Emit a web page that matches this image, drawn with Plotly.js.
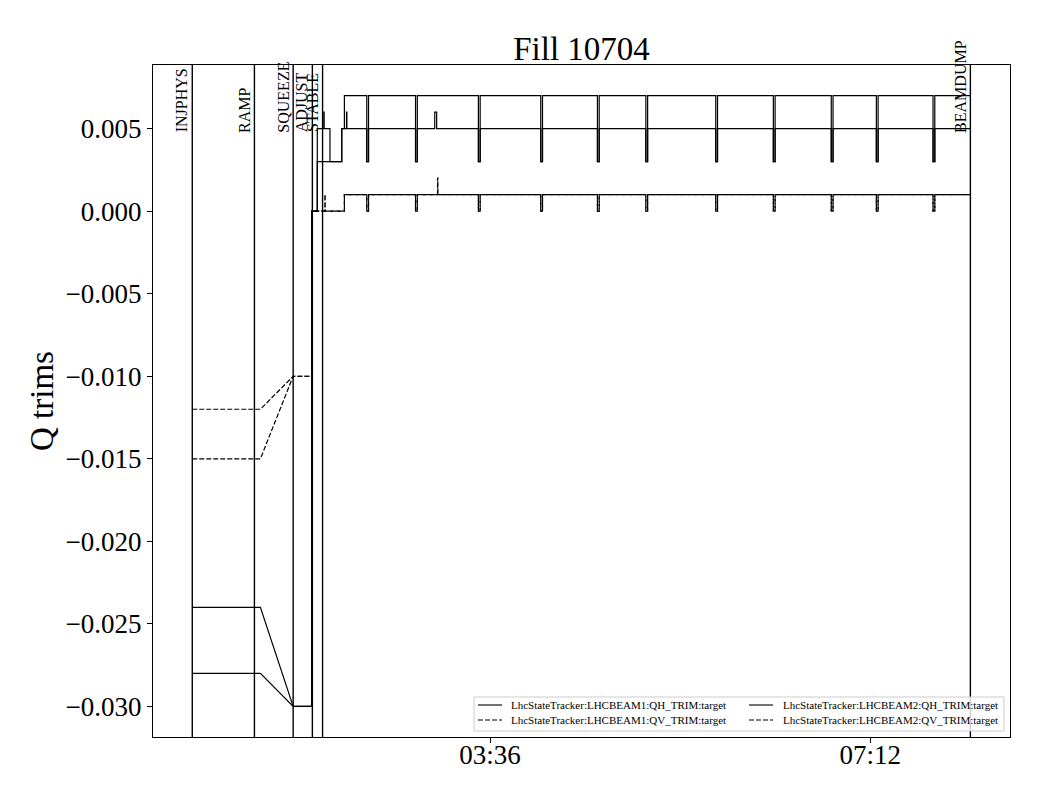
<!DOCTYPE html>
<html><head><meta charset="utf-8">
<script src="https://cdn.plot.ly/plotly-3.0.1.min.js"></script>
<style>body{margin:0;background:#fff}#chart{width:1040px;height:800px}</style>
</head><body><div id="chart"></div>
<script>
const DAY = '2025-06-01 ';
const seriesNames = [
  'LhcStateTracker:LHCBEAM1:QH_TRIM:target',
  'LhcStateTracker:LHCBEAM2:QH_TRIM:target',
  'LhcStateTracker:LHCBEAM1:QV_TRIM:target',
  'LhcStateTracker:LHCBEAM2:QV_TRIM:target'
];
const seriesDash = ['solid','solid','5px,2px','5px,2px'];

const b1qhTime = ['00:46:54','01:25:36','01:44:12','01:54:42','01:54:42','01:57:54','01:57:54','02:11:48','02:11:48','02:13:18','02:13:18',
  '02:26:00','02:26:00','02:27:00','02:27:00',
  '02:53:42','02:53:42','02:54:42','02:54:42',
  '03:29:24','03:29:24','03:30:24','03:30:24',
  '04:04:48','04:04:48','04:05:48','04:05:48',
  '04:37:00','04:37:00','04:38:00','04:38:00',
  '05:04:30','05:04:30','05:05:30','05:05:30',
  '05:44:12','05:44:12','05:45:12','05:45:12',
  '06:16:54','06:16:54','06:17:54','06:17:54',
  '06:49:48','06:49:48','06:50:48','06:50:48',
  '07:15:24','07:15:24','07:16:24','07:16:24',
  '07:47:36','07:47:36','07:48:36','07:48:36',
  '08:08:48'];
const b1qhVal = [-0.024,-0.024,-0.030,-0.030,0.000,0.000,0.003,0.003,0.005,0.005,0.007,
  0.007,0.003,0.003,0.007,
  0.007,0.003,0.003,0.007,
  0.007,0.003,0.003,0.007,
  0.007,0.003,0.003,0.007,
  0.007,0.003,0.003,0.007,
  0.007,0.003,0.003,0.007,
  0.007,0.003,0.003,0.007,
  0.007,0.003,0.003,0.007,
  0.007,0.003,0.003,0.007,
  0.007,0.003,0.003,0.007,
  0.007,0.003,0.003,0.007,
  0.007];

const b2qhTime = ['00:46:54','01:25:36','01:44:12','01:54:42','01:54:42','01:57:54','01:57:54','02:01:36','02:01:36','02:01:48','02:01:48',
  '02:05:06','02:05:06','02:11:48','02:11:48','02:14:30','02:14:30','02:14:42','02:14:42',
  '02:26:00','02:26:00','02:27:00','02:27:00',
  '02:53:42','02:53:42','02:54:42','02:54:42',
  '03:04:36','03:04:36','03:05:42','03:05:42',
  '03:29:24','03:29:24','03:30:24','03:30:24',
  '04:04:48','04:04:48','04:05:48','04:05:48',
  '04:37:00','04:37:00','04:38:00','04:38:00',
  '05:04:30','05:04:30','05:05:30','05:05:30',
  '05:44:12','05:44:12','05:45:12','05:45:12',
  '06:16:54','06:16:54','06:17:54','06:17:54',
  '06:49:48','06:49:48','06:50:48','06:50:48',
  '07:15:24','07:15:24','07:16:24','07:16:24',
  '07:47:36','07:47:36','07:48:36','07:48:36',
  '08:08:48'];
const b2qhVal = [-0.028,-0.028,-0.030,-0.030,0.000,0.000,0.005,0.005,0.006,0.006,0.005,
  0.005,0.003,0.003,0.005,0.005,0.006,0.006,0.005,
  0.005,0.003,0.003,0.005,
  0.005,0.003,0.003,0.005,
  0.005,0.006,0.006,0.005,
  0.005,0.003,0.003,0.005,
  0.005,0.003,0.003,0.005,
  0.005,0.003,0.003,0.005,
  0.005,0.003,0.003,0.005,
  0.005,0.003,0.003,0.005,
  0.005,0.003,0.003,0.005,
  0.005,0.003,0.003,0.005,
  0.005,0.003,0.003,0.005,
  0.005,0.003,0.003,0.005,
  0.005];

const b1qvTime = ['00:46:54','01:25:36','01:44:12','01:54:42','01:54:42','02:02:12','02:02:12','02:02:24','02:02:24','02:13:18','02:13:18',
  '02:26:00','02:26:00','02:27:00','02:27:00',
  '02:53:42','02:53:42','02:54:42','02:54:42',
  '03:06:12','03:06:12','03:06:24','03:06:24',
  '03:29:24','03:29:24','03:30:24','03:30:24',
  '04:04:48','04:04:48','04:05:48','04:05:48',
  '04:37:00','04:37:00','04:38:00','04:38:00',
  '05:04:30','05:04:30','05:05:30','05:05:30',
  '05:44:12','05:44:12','05:45:12','05:45:12',
  '06:16:54','06:16:54','06:17:54','06:17:54',
  '06:49:48','06:49:48','06:50:48','06:50:48',
  '07:15:24','07:15:24','07:16:24','07:16:24',
  '07:47:36','07:47:36','07:48:36','07:48:36',
  '08:08:48'];
const b1qvVal = [-0.012,-0.012,-0.010,-0.010,0.000,0.000,0.001,0.001,0.000,0.000,0.001,
  0.001,0.000,0.000,0.001,
  0.001,0.000,0.000,0.001,
  0.001,0.002,0.002,0.001,
  0.001,0.000,0.000,0.001,
  0.001,0.000,0.000,0.001,
  0.001,0.000,0.000,0.001,
  0.001,0.000,0.000,0.001,
  0.001,0.000,0.000,0.001,
  0.001,0.000,0.000,0.001,
  0.001,0.000,0.000,0.001,
  0.001,0.000,0.000,0.001,
  0.001,0.000,0.000,0.001,
  0.001];

const b2qvTime = ['00:46:54','01:25:36','01:44:12','01:54:42','01:54:42','02:13:18','02:13:18',
  '02:26:00','02:26:00','02:27:00','02:27:00',
  '02:53:42','02:53:42','02:54:42','02:54:42',
  '03:29:24','03:29:24','03:30:24','03:30:24',
  '04:04:48','04:04:48','04:05:48','04:05:48',
  '04:37:00','04:37:00','04:38:00','04:38:00',
  '05:04:30','05:04:30','05:05:30','05:05:30',
  '05:44:12','05:44:12','05:45:12','05:45:12',
  '06:16:54','06:16:54','06:17:54','06:17:54',
  '06:49:48','06:49:48','06:50:48','06:50:48',
  '07:15:24','07:15:24','07:16:24','07:16:24',
  '07:47:36','07:47:36','07:48:36','07:48:36',
  '08:08:48'];
const b2qvVal = [-0.015,-0.015,-0.010,-0.010,0.000,0.000,0.001,
  0.001,0.000,0.000,0.001,
  0.001,0.000,0.000,0.001,
  0.001,0.000,0.000,0.001,
  0.001,0.000,0.000,0.001,
  0.001,0.000,0.000,0.001,
  0.001,0.000,0.000,0.001,
  0.001,0.000,0.000,0.001,
  0.001,0.000,0.000,0.001,
  0.001,0.000,0.000,0.001,
  0.001,0.000,0.000,0.001,
  0.001,0.000,0.000,0.001,
  0.001];

const eventNames = ['INJPHYS','RAMP','SQUEEZE','ADJUST','STABLE','BEAMDUMP'];
const eventTimes = ['00:46:54','01:22:12','01:44:12','01:55:06','02:00:54','08:08:48'];
const xTickTimes = ['03:36:00','07:12:00'];
const xTickLabels = ['03:36','07:12'];
const yTickVals = [-0.030,-0.025,-0.020,-0.015,-0.010,-0.005,0.000,0.005];
const yTickLabels = ['\u22120.030','\u22120.025','\u22120.020','\u22120.015','\u22120.010','\u22120.005','0.000','0.005'];
const xRange = ['00:24:36','08:31:18'];
const yRange = [-0.03185, 0.00885];
const labelY = 0.00464;
const yTitle = 'Q trims';

const FONT = 'Liberation Serif, Times New Roman, serif';
const d = t => DAY + t;

// plot area in pixels (for the legend box)
const PL = 153, PR = 1010, PT = 65, PB = 737;
const px = v => (v - PL) / (PR - PL);
const py = v => (PB - v) / (PB - PT);

const allTimes = [b1qhTime,b2qhTime,b1qvTime,b2qvTime];
const allVals = [b1qhVal,b2qhVal,b1qvVal,b2qvVal];
const traces = allTimes.map((tt,i)=>({
  type:'scatter', mode:'lines',
  x: tt.map(d), y: allVals[i],
  name: seriesNames[i],
  line:{color:'#000', width:1.2, dash:seriesDash[i]},
  hoverinfo:'skip', showlegend:false
}));

const shapes = eventTimes.map(t=>({
  type:'line', xref:'x', yref:'paper', x0:d(t), x1:d(t), y0:0, y1:1,
  line:{color:'#000', width:1.4}
}));
const annotations = eventTimes.map((t,i)=>({
  x:d(t), y:labelY, xref:'x', yref:'y', text:eventNames[i], showarrow:false,
  textangle:-90, xanchor:'right', yanchor:'bottom', xshift:0,
  font:{family:FONT, size:16, color:'#000'}
}));

// y-axis title
annotations.push({xref:'paper', yref:'paper', x:px(42), y:0.5, xanchor:'center', yanchor:'middle',
  textangle:-90, showarrow:false, text:yTitle, font:{family:FONT, size:33, color:'#000'}});

// legend: two columns (BEAM1 | BEAM2), rows QH / QV
shapes.push({type:'rect', xref:'paper', yref:'paper', x0:px(474), x1:px(1004), y0:py(731), y1:py(697),
  fillcolor:'rgba(255,255,255,0.8)', line:{color:'#cccccc', width:1}});
const legCols = [[478,509],[749,781]];
const legRows = [705,720];
const legOrder = [[0,2],[1,3]]; // column -> [row0 series, row1 series]
legOrder.forEach((col,ci)=>{
  col.forEach((si,ri)=>{
    shapes.push({type:'line', xref:'paper', yref:'paper', x0:px(legCols[ci][0]), x1:px(legCols[ci][0]+24),
      y0:py(legRows[ri]), y1:py(legRows[ri]), line:{color:'#000', width:1.1, dash:seriesDash[si]}});
    annotations.push({xref:'paper', yref:'paper', x:px(legCols[ci][1]), y:py(legRows[ri]),
      xanchor:'left', yanchor:'middle', showarrow:false, text:seriesNames[si],
      font:{family:FONT, size:11, color:'#000'}});
  });
});

const layout = {
  width:1040, height:800,
  margin:{l:153, r:30, t:65, b:63},
  paper_bgcolor:'#fff', plot_bgcolor:'#fff',
  showlegend:false,
  title:{text:'Fill 10704', font:{family:FONT, size:33, color:'#000'}, x:0.5, xref:'paper', y:1-48/800, yref:'container', yanchor:'middle'},
  xaxis:{type:'date', range:xRange.map(d), tickvals:xTickTimes.map(d), ticktext:xTickLabels,
    showgrid:false, zeroline:false, showline:true, mirror:true, linecolor:'#000', linewidth:1,
    ticks:'outside', ticklen:5, tickwidth:1, tickcolor:'#000', ticklabelstandoff:-11,
    tickfont:{family:FONT, size:27, color:'#000'}},
  yaxis:{range:yRange, tickvals:yTickVals, ticktext:yTickLabels,
    showgrid:false, zeroline:false, showline:true, mirror:true, linecolor:'#000', linewidth:1,
    ticks:'outside', ticklen:5, tickwidth:1, tickcolor:'#000',
    tickfont:{family:FONT, size:27, color:'#000'}},
  shapes:shapes, annotations:annotations
};
Plotly.newPlot('chart', traces, layout, {displayModeBar:false, staticPlot:true});
</script></body></html>
